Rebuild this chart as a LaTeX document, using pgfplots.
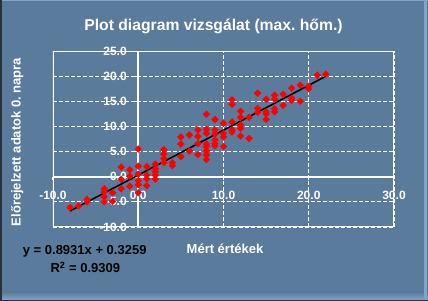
\documentclass[border=0pt]{standalone}
\usepackage{pgfplots}
\pgfplotsset{compat=1.18}
\usepackage{fontspec}
\setmainfont{Liberation Sans}
\frenchspacing
\definecolor{bg}{RGB}{91,123,157}
\definecolor{bglight}{RGB}{130,162,200}
\definecolor{bgdark}{RGB}{40,50,60}
\begin{document}
\begin{tikzpicture}
\fill[bg] (0bp,0bp) rectangle (428bp,301bp);
\shade[bottom color=bglight, top color=bg] (0bp,1bp) rectangle (428bp,9bp);
\fill[bglight] (0bp,299.5bp) rectangle (428bp,301bp);
\fill[bglight] (424bp,0bp) rectangle (427bp,301bp);
\fill[bgdark] (0bp,0bp) rectangle (1.8bp,301bp);
\fill[bgdark] (0bp,0bp) rectangle (428bp,1bp);
\path[use as bounding box] (0bp,0bp) rectangle (428bp,301bp);
\begin{axis}[
  at={(53bp,74bp)}, anchor=south west,
  scale only axis, width=341bp, height=176bp,
  xmin=-10, xmax=30, ymin=-10, ymax=25,
  axis lines=middle,
  axis line style={white, line width=1.8bp, -},
  xtick={-10,0,10,20,30}, ytick={-10,-5,0,5,10,15,20,25},
  grid=major,
  major grid style={white, line width=0.8bp, dash pattern=on 4bp off 2bp},
  tick style={white, line width=1bp},
  tick align=outside, major tick length=3bp,
  hide obscured x ticks=false, hide obscured y ticks=false,
  ticklabel style={white, font=\fontsize{12bp}{14bp}\selectfont\bfseries},
  xticklabel style={yshift=-8bp},
  yticklabel style={xshift=-5bp},
  /pgf/number format/fixed, /pgf/number format/fixed zerofill,
  /pgf/number format/precision=1, /pgf/number format/assume math mode=true,
]
\addplot[only marks, mark=square*, mark size=2.4bp, mark options={rotate=45, fill=red, draw=red}] coordinates {
(-8,-6.1) (-7,-5.8) (-6,-4.5) (-6,-5.0)
(-4,-2.4) (-4,-3.0) (-4,-4.0) (-4,-5.0)
(-3,-3.2) (-3,-4.9)
(-2,1.9) (-2,-0.5) (-2,-2.4)
(-1,1.4) (-1,0.1) (-1,-1.9)
(0,5.5) (0,2.1) (0,0.5) (0,-0.8) (0,-1.6) (0,-3.2)
(1,2.0) (1,0.3) (1,-0.4) (1,-1.8)
(2,2.5) (2,1.6) (2,1.0) (2,0.3) (2,-0.5)
(3,5.4) (3,4.5) (3,3.6) (3,2.8)
(4,2.8) (4,2.2)
(5,7.9) (5,6.5) (5,4.0)
(6,8.3) (6,5.1)
(7,9.3) (7,8.0) (7,6.6) (7,4.4)
(8,12.4) (8,9.4) (8,8.6) (8,6.5) (8,6.0) (8,5.1) (8,4.3) (8,3.4)
(9,11.4) (9,9.3) (9,8.5) (9,7.3) (9,6.6) (9,6.1)
(10,10.6) (10,8.6) (10,7.9) (10,6.0)
(11,15.3) (11,14.4) (11,10.9) (11,9.3) (11,8.9)
(12,13.0) (12,11.8) (12,10.3) (12,9.6) (12,8.1)
(13,11.8) (13,7.6)
(14,16.6) (14,13.6) (14,12.8)
(15,15.4) (15,12.9) (15,12.5) (15,11.4)
(16,16.2) (16,15.4) (16,13.5) (16,12.9)
(17,16.4) (17,14.2)
(18,17.6) (18,15.6) (18,15.2)
(19,18.2) (19,15.0)
(20,18.0) (20,17.5)
(21,20.2) (22,20.4)
};
\addplot[black, line width=1.6bp, no markers] coordinates {(-8,-6.8189) (22,19.9741)};
\draw[white, line width=1.5bp] (rel axis cs:0,0) rectangle (rel axis cs:1,1);
\end{axis}
\node[white, anchor=base, font=\fontsize{15.7bp}{18bp}\selectfont\bfseries] at (213.5bp,270.4bp) {Plot diagram vizsgálat (max. hőm.)};
\node[white, anchor=base, font=\fontsize{13bp}{15bp}\selectfont\bfseries] at (225bp,47.7bp) {Mért értékek};
\node[white, anchor=base, rotate=90, font=\fontsize{13bp}{15bp}\selectfont\bfseries] at (20.5bp,159bp) {Előrejelzett adatok 0. napra};
\node[black, anchor=base, font=\fontsize{13bp}{15bp}\selectfont\bfseries] at (84.7bp,46bp) {y = 0.8931x + 0.3259};
\node[black, anchor=base, font=\fontsize{13bp}{15bp}\selectfont\bfseries] at (85.3bp,28.3bp) {R\textsuperscript{2} = 0.9309};
\end{tikzpicture}
\end{document}
